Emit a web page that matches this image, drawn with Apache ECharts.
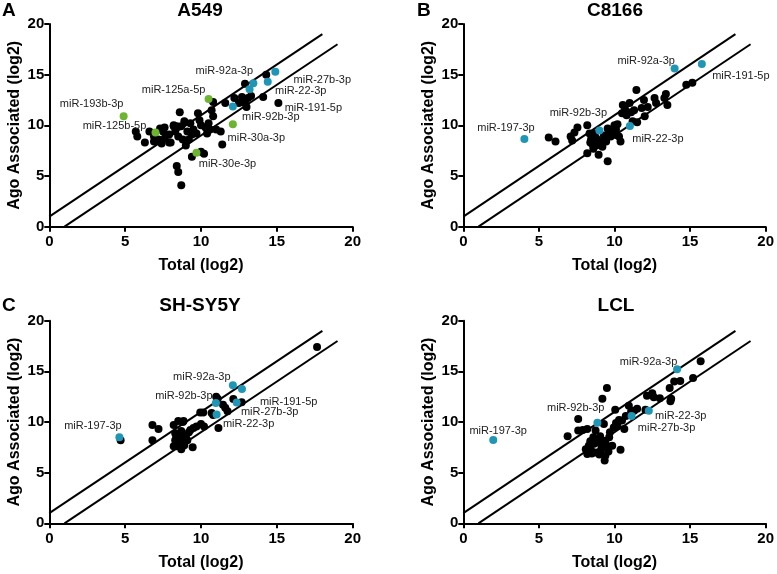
<!DOCTYPE html>
<html>
<head>
<meta charset="utf-8">
<script src="https://cdn.jsdelivr.net/npm/echarts@6/dist/echarts.min.js"></script>
<style>
html,body{margin:0;padding:0;background:#fff;}
#chart{width:777px;height:574px;}
</style>
</head>
<body>
<div id="chart"></div>
<script>
// ---------------- DATA ----------------
const panelTitles = ['A549', 'C8166', 'SH-SY5Y', 'LCL'];
const panelLetters = ['A', 'B', 'C', ''];
const xAxisName = 'Total (log2)';
const yAxisName = 'Ago Associated (log2)';
const diagUpper = [[0, 1], [18, 19]];
const diagLower = [[1, 0], [19, 18]];

const a549Black = [[5.7,9.4],[5.8,8.9],[6.3,8.3],[6.6,9.4],[6.9,8.9],[6.9,8.4],[7.2,8.6],[7.3,9.7],[7.5,9.4],[7.6,8.7],[7.6,9.8],[7.9,9.1],[7.9,8.3],[8.2,10.0],[8.3,9.4],[8.5,8.9],[8.4,9.9],[8.6,11.3],[8.7,9.9],[8.9,10.4],[9.1,9.4],[9.3,10.2],[9.4,9.1],[9.5,9.6],[9.2,8.6],[9.0,8.0],[8.8,8.6],[9.8,11.2],[9.9,10.5],[10.0,10.0],[10.5,10.2],[10.6,9.6],[10.8,12.3],[10.7,11.5],[10.8,10.9],[11.0,9.6],[11.3,9.4],[11.4,8.1],[11.6,12.2],[12.2,12.7],[12.5,12.2],[12.7,12.8],[12.9,12.2],[12.9,14.1],[13.1,12.7],[13.0,11.8],[13.3,12.9],[14.1,12.8],[14.3,15.0],[8.5,5.4],[8.4,6.0],[8.7,4.1],[9.4,6.9],[10.0,7.4],[10.2,7.2],[8.0,8.3],[7.4,8.2],[10.4,9.2],[10.3,9.8],[9.7,9.2],[8.2,9.9]];
const a549Tagged = [[15.1,12.2,'miR-191-5p']];
const a549Blue = [[13.45,14.15,'miR-92a-3p'],[13.2,13.55,''],[14.4,14.3,'miR-22-3p'],[14.9,15.3,'miR-27b-3p'],[12.1,11.85,'miR-92b-3p']];
const a549Green = [[4.9,10.9,'miR-193b-3p'],[7.0,9.3,'miR-125b-5p'],[10.5,12.6,'miR-125a-5p'],[12.1,10.1,'miR-30a-3p'],[9.7,7.3,'miR-30e-3p']];

const c8166Black = [[5.65,8.8],[6.1,8.4],[7.1,8.9],[7.2,8.5],[7.35,9.3],[7.55,9.8],[8.2,10.0],[8.2,7.25],[8.35,9.2],[8.45,8.6],[8.55,8.1],[8.6,7.7],[8.8,8.7],[8.95,7.1],[9.1,8.1],[9.2,7.9],[9.3,8.6],[9.45,8.4],[9.55,6.45],[9.55,9.7],[9.7,9.4],[9.75,8.9],[9.9,9.4],[10.0,10.0],[10.1,9.05],[10.2,10.1],[10.3,8.9],[10.4,8.4],[10.55,12.0],[10.5,11.2],[10.7,11.6],[10.8,11.0],[11.0,12.2],[11.2,10.4],[11.3,11.5],[11.45,13.5],[11.5,10.3],[11.8,11.7],[11.95,12.5],[12.0,10.9],[12.2,11.8],[12.65,12.7],[12.75,12.2],[13.3,12.7],[13.4,13.1],[13.5,12.0],[14.75,14.0],[15.15,14.2],[8.4,8.3],[8.7,9.2],[9.0,8.4],[9.3,9.0],[10.1,9.6],[9.6,9.2],[8.8,8.0],[11.1,11.3]];
const c8166Tagged = [];
const c8166Blue = [[4.04,8.65,'miR-197-3p'],[9.0,9.5,'miR-92b-3p'],[13.98,15.6,'miR-92a-3p'],[15.78,16.05,'miR-191-5p'],[11.02,9.93,'miR-22-3p']];

const shsy5yBlack = [[4.7,8.2],[6.8,8.2],[6.8,9.7],[7.2,9.3],[8.2,9.7],[8.35,8.75],[8.3,8.2],[8.4,7.6],[8.5,10.1],[8.6,8.2],[8.7,7.3],[8.8,10.0],[8.7,9.1],[8.85,10.1],[8.95,8.2],[8.5,7.8],[8.6,8.6],[8.9,7.7],[9.0,8.6],[9.2,9.0],[9.45,7.5],[9.5,9.4],[9.7,9.55],[9.95,10.95],[10.0,9.8],[10.15,10.95],[10.2,9.55],[10.7,10.9],[10.8,10.7],[11.0,12.5],[11.1,12.3],[11.45,11.7],[11.6,11.4],[11.75,11.05],[12.13,12.27],[11.15,9.4],[17.65,17.4],[8.4,8.0],[8.75,7.9],[9.1,8.2],[8.3,8.9],[9.3,9.2],[8.2,7.6]];
const shsy5yTagged = [[12.68,11.95,'miR-191-5p']];
const shsy5yBlue = [[4.62,8.5,'miR-197-3p'],[12.1,13.62,'miR-92a-3p'],[12.7,13.25,''],[10.98,11.88,'miR-92b-3p'],[12.35,11.92,'miR-27b-3p'],[11.03,10.74,'miR-22-3p']];

const lclBlack = [[6.9,8.6],[7.6,10.3],[7.6,9.15],[7.9,9.2],[8.2,9.3],[8.3,7.65],[8.2,6.85],[8.45,7.2],[8.65,7.85],[8.6,8.5],[8.75,9.15],[9.1,7.2],[9.2,12.3],[9.5,13.35],[9.3,9.8],[9.25,8.15],[9.4,6.7],[9.35,6.2],[9.5,7.5],[9.65,8.5],[9.85,7.65],[9.95,9.45],[10.05,11.2],[10.4,7.25],[10.65,9.3],[10.5,10.15],[10.75,10.6],[10.95,11.6],[11.3,11.1],[11.5,11.3],[12.05,11.2],[12.15,12.6],[12.5,12.85],[12.6,12.45],[13.0,12.35],[13.65,13.35],[13.7,12.05],[13.75,12.3],[13.95,14.0],[14.35,14.05],[15.2,14.35],[15.7,16.0],[8.4,8.1],[8.8,7.0],[9.0,6.8],[9.15,7.6],[8.9,8.0],[9.4,8.0],[9.6,7.1],[8.5,6.9],[9.05,8.6],[9.7,9.0],[10.2,9.6],[10.3,10.2],[10.1,9.9],[8.1,7.3],[11.1,11.0]];
const lclTagged = [];
const lclBlue = [[1.98,8.22,'miR-197-3p'],[8.87,9.93,'miR-92b-3p'],[14.14,15.2,'miR-92a-3p'],[12.27,11.12,'miR-22-3p'],[11.13,10.6,'miR-27b-3p']];

// ---------------- STYLE / LAYOUT ----------------
const COL_BLACK = '#000000', COL_BLUE = '#1f96b6', COL_GREEN = '#6db52f';
const FONT = '"Liberation Sans", Arial, sans-serif';
const grids = [
  {left: 49.3, top: 24, width: 303.4, height: 202.7},
  {left: 463.3, top: 24, width: 303.7, height: 202.7},
  {left: 49.3, top: 320.7, width: 303.4, height: 202.6},
  {left: 463.3, top: 320.7, width: 303.7, height: 202.6}
];
const titlePos = [[200, 1], [615, 1], [200, 296], [616, 296]];
const letterPos = [[2, 1], [417, 1], [2, 296], [0, 0]];
// label offsets (pixels from point centre), per panel
const labelOffsets = [
  {'miR-193b-3p':[-32,-12],'miR-125b-5p':[-41,-6],'miR-125a-5p':[-35,-9],'miR-92a-3p':[-29,-12],'miR-27b-3p':[47,8],'miR-22-3p':[33,9],'miR-191-5p':[35,5],'miR-92b-3p':[38,10.5],'miR-30a-3p':[23.5,13.3],'miR-30e-3p':[31,11.7]},
  {'miR-197-3p':[-18.4,-11.3],'miR-92b-3p':[-21,-17.6],'miR-92a-3p':[-28.5,-7.7],'miR-191-5p':[39,12],'miR-22-3p':[28,13.3]},
  {'miR-197-3p':[-26.5,-11.3],'miR-92a-3p':[-31,-8.7],'miR-92b-3p':[-32,-7.3],'miR-27b-3p':[33,9.3],'miR-22-3p':[32,9.7],'miR-191-5p':[47,-0.6]},
  {'miR-197-3p':[4.9,-9.3],'miR-92b-3p':[-21.7,-14.4],'miR-92a-3p':[-28.5,-7.6],'miR-22-3p':[32,5.6],'miR-27b-3p':[35,12]}
];
const panels = [
  {black: a549Black, tagged: a549Tagged, blue: a549Blue, green: a549Green},
  {black: c8166Black, tagged: c8166Tagged, blue: c8166Blue, green: []},
  {black: shsy5yBlack, tagged: shsy5yTagged, blue: shsy5yBlue, green: []},
  {black: lclBlack, tagged: lclTagged, blue: lclBlue, green: []}
];

function labeled(arr, idx) {
  return arr.map(function (p) {
    const item = {value: [p[0], p[1]], name: p[2]};
    if (p[2]) {
      item.label = {show: true, position: 'inside', offset: labelOffsets[idx][p[2]] || [0, 0],
        formatter: p[2], color: '#222', fontSize: 11, fontFamily: FONT};
    }
    return item;
  });
}

const xAxes = [], yAxes = [], series = [], titles = [];
grids.forEach(function (g, i) {
  xAxes.push({
    gridIndex: i, type: 'value', min: 0, max: 20, interval: 5,
    name: xAxisName, nameLocation: 'middle', nameGap: 31,
    nameTextStyle: {fontWeight: 'bold', fontSize: 16, color: '#000', fontFamily: FONT},
    axisLine: {show: true, onZero: false, lineStyle: {color: '#000', width: 2}},
    axisTick: {show: true, length: 5, lineStyle: {color: '#000', width: 2}},
    axisLabel: {color: '#000', fontWeight: 'bold', fontSize: 15, fontFamily: FONT, margin: 8},
    splitLine: {show: false}
  });
  yAxes.push({
    gridIndex: i, type: 'value', min: 0, max: 20, interval: 5,
    name: yAxisName, nameLocation: 'middle', nameGap: 27,
    nameTextStyle: {fontWeight: 'bold', fontSize: 16, color: '#000', fontFamily: FONT},
    axisLine: {show: true, onZero: false, lineStyle: {color: '#000', width: 2}},
    axisTick: {show: true, length: 5, lineStyle: {color: '#000', width: 2}},
    axisLabel: {color: '#000', fontWeight: 'bold', fontSize: 15, fontFamily: FONT, margin: 5},
    splitLine: {show: false}
  });
  const P = panels[i];
  [diagUpper, diagLower].forEach(function (d) {
    series.push({type: 'line', xAxisIndex: i, yAxisIndex: i, data: d, symbol: 'none',
      lineStyle: {color: '#000', width: 2}, silent: true, z: 1, animation: false});
  });
  series.push({type: 'scatter', xAxisIndex: i, yAxisIndex: i, data: P.black, symbolSize: 8,
    itemStyle: {color: COL_BLACK, opacity: 1}, z: 2, animation: false});
  series.push({type: 'scatter', xAxisIndex: i, yAxisIndex: i, data: labeled(P.tagged, i), symbolSize: 8,
    itemStyle: {color: COL_BLACK, opacity: 1}, z: 3, animation: false});
  series.push({type: 'scatter', xAxisIndex: i, yAxisIndex: i, data: labeled(P.green, i), symbolSize: 8,
    itemStyle: {color: COL_GREEN, opacity: 1}, z: 4, animation: false});
  series.push({type: 'scatter', xAxisIndex: i, yAxisIndex: i, data: labeled(P.blue, i), symbolSize: 8,
    itemStyle: {color: COL_BLUE, opacity: 1}, z: 4, animation: false});
  titles.push({text: panelTitles[i], left: titlePos[i][0], top: titlePos[i][1], textAlign: 'center', padding: 0,
    textStyle: {fontWeight: 'bold', fontSize: 19, color: '#000', fontFamily: FONT}});
  if (panelLetters[i]) {
    titles.push({text: panelLetters[i], left: letterPos[i][0], top: letterPos[i][1], padding: 0,
      textStyle: {fontWeight: 'bold', fontSize: 19, color: '#000', fontFamily: FONT}});
  }
});

const chart = echarts.init(document.getElementById('chart'), null, {renderer: 'canvas'});
chart.setOption({
  backgroundColor: '#ffffff',
  animation: false,
  title: titles,
  grid: grids,
  xAxis: xAxes,
  yAxis: yAxes,
  series: series
});
</script>
</body>
</html>
